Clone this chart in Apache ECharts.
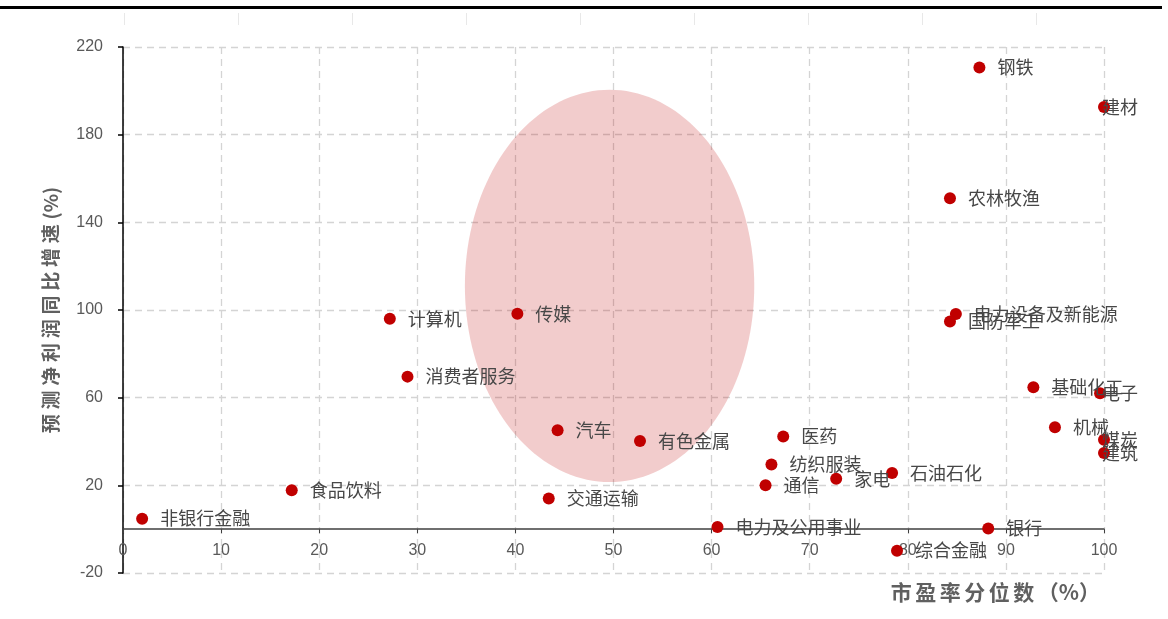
<!DOCTYPE html>
<html>
<head>
<meta charset="utf-8">
<script src="https://cdn.jsdelivr.net/npm/echarts@6/dist/echarts.min.js"></script>
<style>
  html, body { margin: 0; padding: 0; background: #ffffff; }
  #chart { width: 1168px; height: 619px; }
</style>
</head>
<body>
<div id="chart"></div>
<script>
// 行业：市盈率分位数 (%) 与 预测净利润同比增速 (%)
const industries = ['钢铁', '建材', '农林牧渔', '电力设备及新能源', '国防军工', '基础化工', '电子', '机械', '煤炭', '建筑',
  '石油石化', '家电', '通信', '纺织服装', '医药', '有色金属', '电力及公用事业', '银行', '综合金融',
  '计算机', '传媒', '消费者服务', '汽车', '非银行金融', '食品饮料', '交通运输'];
const peRank = [87.3, 100, 84.3, 84.9, 84.3, 92.8, 99.6, 95.0, 100, 100,
  78.4, 72.7, 65.5, 66.1, 67.3, 52.7, 60.6, 88.2, 78.9,
  27.2, 40.2, 29.0, 44.3, 1.95, 17.2, 43.4];
const profitGrowth = [210.6, 192.6, 151.0, 98.2, 94.8, 64.7, 62.0, 46.5, 40.8, 34.8,
  25.6, 23.0, 20.0, 29.5, 42.3, 40.2, 1.0, 0.3, -9.8,
  96.0, 98.3, 69.6, 45.1, 4.8, 17.8, 14.0];

// 高亮区域（椭圆）：中心x、中心y、x半径、y半径
const focusZone = [49.6, 111, 14.75, 89.5];

// 坐标轴刻度
const xTicks = { min: 0, max: 100, step: 10 };
const yTicks = { min: -20, max: 220, step: 40 };

// 靠近右边界的标签向左收回
const labelShiftLeft = { '建材': -20, '电子': -16, '煤炭': -20, '建筑': -20 };

const chart = echarts.init(document.getElementById('chart'), null, { renderer: 'canvas' });

const labelColor = '#474747';
const tickColor = '#595959';
const gridLine = { show: true, lineStyle: { color: '#d4d4d4', width: 1.3, type: [7, 5] } };

const points = industries.map((name, i) => {
  const item = { name: name, value: [peRank[i], profitGrowth[i]] };
  if (labelShiftLeft[name] !== undefined) {
    item.label = { offset: [labelShiftLeft[name], 0] };
  }
  return item;
});

const topStubs = [];
for (let k = 0; k < 9; k++) {
  topStubs.push({
    type: 'line',
    shape: { x1: 124.5 + 114 * k, y1: 13, x2: 124.5 + 114 * k, y2: 25 },
    style: { stroke: '#e8e8e8', lineWidth: 1 },
    silent: true
  });
}

const sp = '\u2005';
const sp2 = '\u2006';

chart.setOption({
  animation: false,
  backgroundColor: '#ffffff',
  grid: { left: 123, right: 64, top: 47, bottom: 46, containLabel: false },
  xAxis: {
    type: 'value',
    min: xTicks.min, max: xTicks.max, interval: xTicks.step,
    axisLine: { show: true, onZero: true, lineStyle: { color: '#404040', width: 1.5 } },
    axisTick: { show: true, length: 4, lineStyle: { color: '#404040', width: 1 } },
    axisLabel: { color: tickColor, fontSize: 16, fontFamily: 'Liberation Sans, Arial, sans-serif', margin: -30 },
    splitLine: gridLine
  },
  yAxis: {
    type: 'value',
    min: yTicks.min, max: yTicks.max, interval: yTicks.step,
    name: ['预', '测', '净', '利', '润', '同', '比', '增', '速', '(%)'].join(sp),
    nameLocation: 'middle',
    nameRotate: 90,
    nameGap: 63,
    nameTextStyle: { color: '#606060', fontSize: 19, fontWeight: 'bold', fontFamily: 'Noto Sans CJK SC, sans-serif' },
    axisLine: { show: true, onZero: false, lineStyle: { color: '#000000', width: 1.5 } },
    axisTick: { show: true, length: 5, lineStyle: { color: '#000000', width: 1.5 } },
    axisLabel: { color: tickColor, fontSize: 16, fontFamily: 'Liberation Sans, Arial, sans-serif', margin: 20 },
    splitLine: gridLine
  },
  graphic: [
    { type: 'rect', shape: { x: 0, y: 6, width: 1162, height: 3 }, style: { fill: '#000000' }, silent: true },
    ...topStubs,
    {
      type: 'text',
      right: 68,
      top: 582,
      style: {
        text: ['市', '盈', '率', '分', '位', '数', '（%）'].join(sp2),
        fill: '#606060',
        font: 'bold 21px "Noto Sans CJK SC", sans-serif'
      },
      silent: true
    }
  ],
  series: [
    {
      type: 'custom',
      name: 'zone',
      z: 1,
      silent: true,
      data: [focusZone],
      encode: { x: 0, y: 1 },
      renderItem: function (params, api) {
        const cx = api.value(0), cy = api.value(1), rx = api.value(2), ry = api.value(3);
        const pts = [];
        const n = 160;
        for (let k = 0; k < n; k++) {
          const t = 2 * Math.PI * k / n;
          pts.push(api.coord([cx + rx * Math.cos(t), cy + ry * Math.sin(t)]));
        }
        return { type: 'polygon', shape: { points: pts }, style: { fill: 'rgba(192,0,0,0.2)' } };
      }
    },
    {
      type: 'scatter',
      name: '行业',
      z: 3,
      clip: false,
      symbol: 'circle',
      symbolSize: 12,
      itemStyle: { color: '#c00000', opacity: 1 },
      label: {
        show: true,
        position: 'right',
        distance: 12,
        formatter: '{b}',
        color: labelColor,
        fontSize: 18,
        fontFamily: 'Noto Sans CJK SC, sans-serif'
      },
      data: points
    }
  ]
});
</script>
</body>
</html>
